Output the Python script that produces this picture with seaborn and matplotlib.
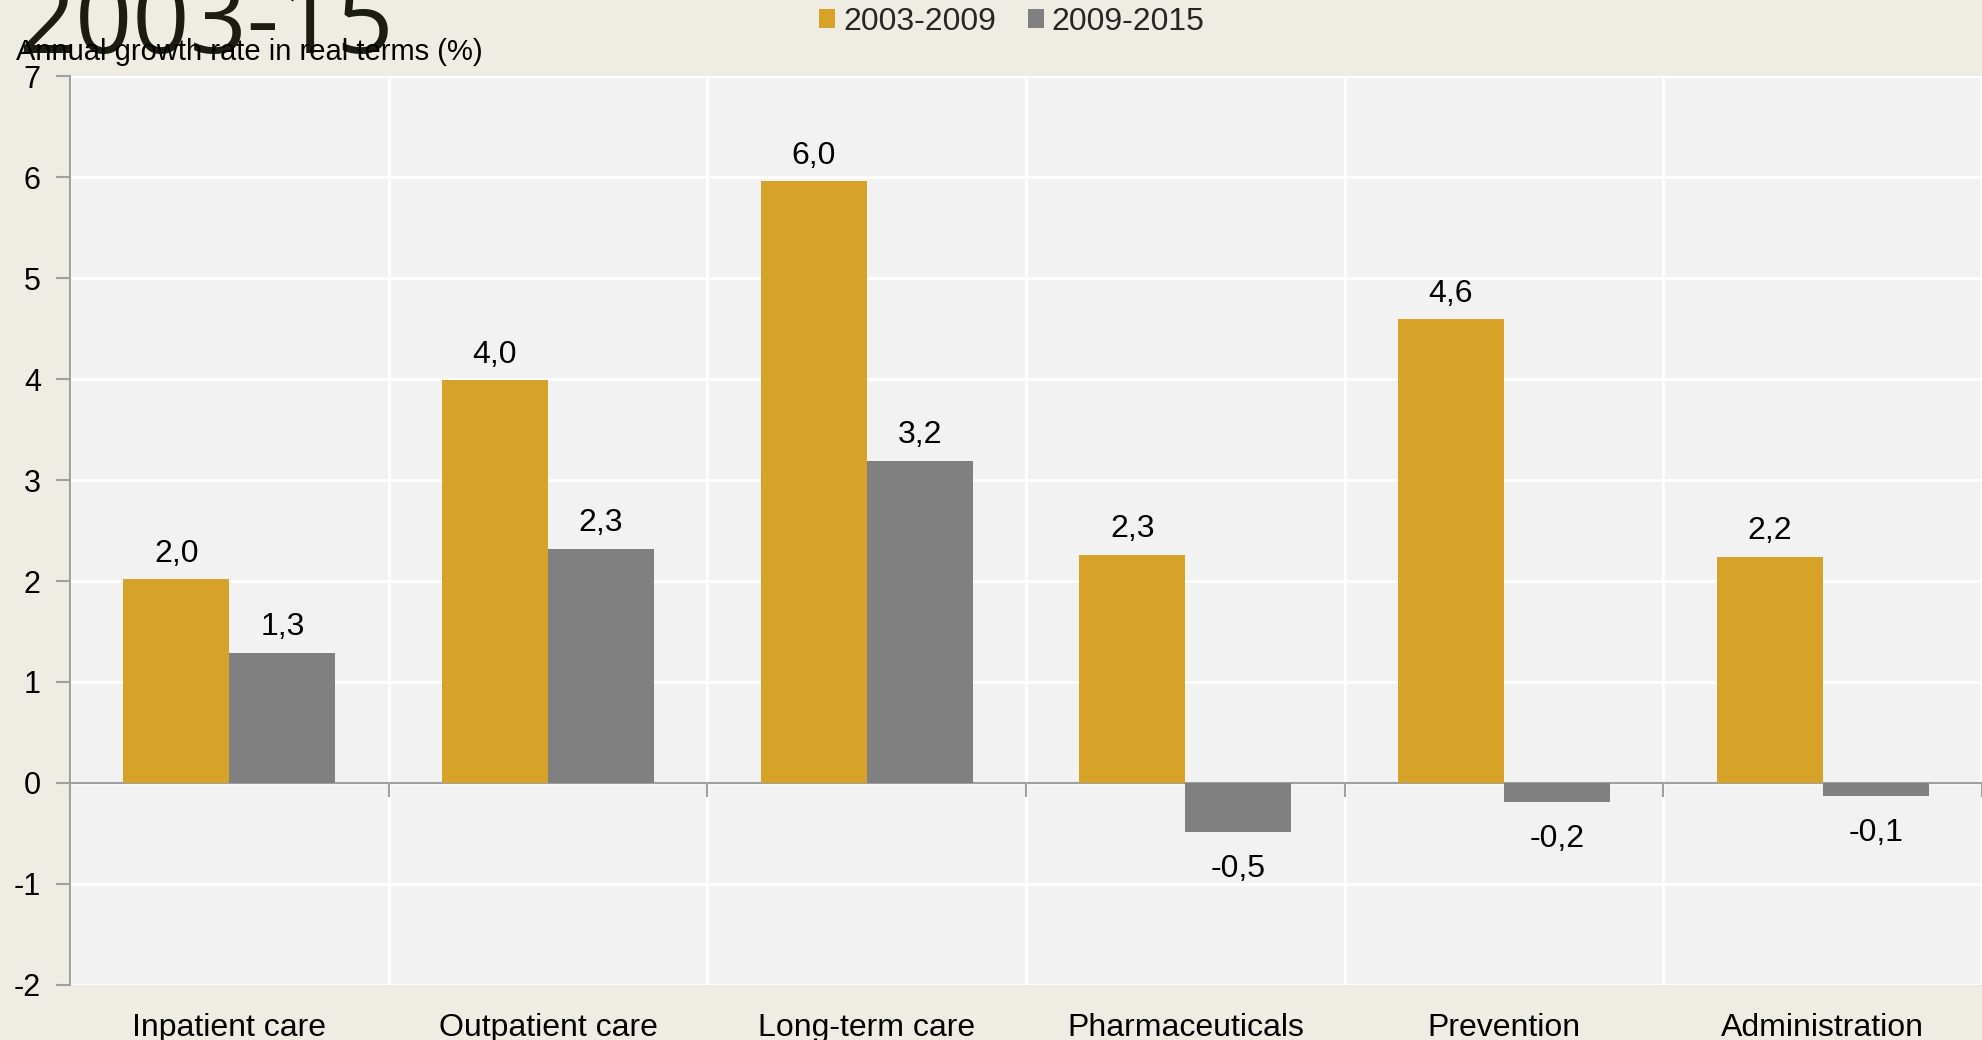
import matplotlib
matplotlib.use("Agg")
import matplotlib.pyplot as plt
from matplotlib.patches import Patch
import seaborn as sns
import pandas as pd

categories = ["Inpatient care", "Outpatient care", "Long-term care",
              "Pharmaceuticals", "Prevention", "Administration"]
periods = ["2003-2009", "2009-2015"]
growth_2003_2009 = [2.02, 3.99, 5.96, 2.26, 4.59, 2.24]
growth_2009_2015 = [1.29, 2.32, 3.19, -0.49, -0.19, -0.13]
y_ticks = [-2, -1, 0, 1, 2, 3, 4, 5, 6, 7]

gold = "#D6A227"
grey = "#808080"
fig_bg = "#EFECE4"
plot_bg = "#F2F2F2"

df = pd.DataFrame({
    "category": categories * 2,
    "period": [periods[0]] * len(categories) + [periods[1]] * len(categories),
    "growth": growth_2003_2009 + growth_2009_2015,
})

sns.set_theme(style="white")
plt.rcParams["font.family"] = ["Liberation Sans", "DejaVu Sans"]

fig = plt.figure(figsize=(19.82, 10.40), dpi=100, facecolor=fig_bg)
ax = fig.add_axes([0.0353, 0.0529, 0.9647, 0.8740])
ax.set_facecolor(plot_bg)

sns.barplot(data=df, x="category", y="growth", hue="period",
            order=categories, hue_order=periods,
            palette=[gold, grey], width=0.666, gap=0,
            saturation=1, linewidth=0, legend=False, ax=ax)

ymin, ymax = y_ticks[0], y_ticks[-1]
ax.set_ylim(ymin, ymax)
ax.set_xlim(-0.5, len(categories) - 0.5)
ax.set_yticks(y_ticks)
ax.set_yticklabels([str(t) for t in y_ticks])

# white grid: horizontal at each unit, vertical at category boundaries
for t in y_ticks:
    ax.axhline(t, color="white", lw=2, zorder=0)
for b in range(len(categories) + 1):
    ax.axvline(b - 0.5, color="white", lw=2, zorder=0)

for s in ["top", "right", "bottom"]:
    ax.spines[s].set_visible(False)
ax.spines["left"].set_color("#A0A0A0")
ax.spines["left"].set_linewidth(1.5)
ax.tick_params(axis="y", length=10, width=1.5, color="#A0A0A0",
               pad=11, labelsize=22, labelcolor="black", left=True)
ax.tick_params(axis="x", length=0, pad=20, labelsize=23, labelcolor="black")
ax.set_xlabel("")
ax.set_ylabel("")

# zero axis with category boundary ticks
zero_pos = (0 - ymin) / (ymax - ymin)
sec = ax.secondary_xaxis(zero_pos)
sec.set_xticks([b - 0.5 for b in range(len(categories) + 1)])
sec.set_xticklabels([])
sec.tick_params(axis="x", length=10, width=1.5, color="#A0A0A0", direction="out")
sec.spines["bottom"].set_color("#A0A0A0")
sec.spines["bottom"].set_linewidth(1.5)
for s in ["top", "left", "right"]:
    sec.spines[s].set_visible(False)

# value labels
for container in ax.containers:
    for bar in container:
        v = bar.get_y() if bar.get_y() < 0 else bar.get_height()
        x = bar.get_x() + bar.get_width() / 2
        txt = f"{v:.1f}".replace(".", ",")
        offset = 12.5 if v >= 0 else -32
        ax.annotate(txt, (x, v), xytext=(0, offset), textcoords="offset points",
                    ha="center", va="baseline", fontsize=23, color="black")

# title, axis caption, legend
fig.text(0.009, 0.949, "2003-15", fontsize=72, color="#1C1C12",
         family=["Open Sans", "DejaVu Sans"], va="baseline", ha="left")
fig.text(0.008, 0.9425, "Annual growth rate in real terms (%)", fontsize=21,
         color="black", va="baseline", ha="left")

handles = [Patch(facecolor=gold, edgecolor="none", label=periods[0]),
           Patch(facecolor=grey, edgecolor="none", label=periods[1])]
fig.legend(handles=handles, loc="center", bbox_to_anchor=(0.5105, 0.979),
           ncol=2, frameon=False, fontsize=23, handlelength=0.5,
           handleheight=0.5, handletextpad=0.25, columnspacing=1.0)

fig.savefig("out.png", dpi=100, facecolor=fig_bg)
